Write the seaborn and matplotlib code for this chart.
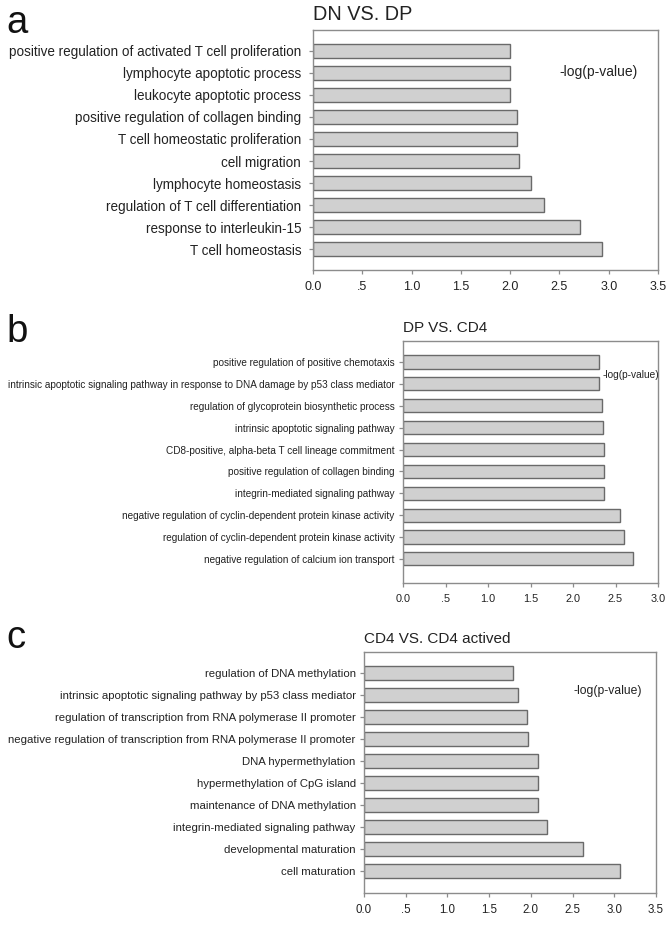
import matplotlib
matplotlib.use("Agg")
import matplotlib.pyplot as plt
import seaborn as sns

# panel a: DN vs DP
terms_a = [
    "positive regulation of activated T cell proliferation",
    "lymphocyte apoptotic process",
    "leukocyte apoptotic process",
    "positive regulation of collagen binding",
    "T cell homeostatic proliferation",
    "cell migration",
    "lymphocyte homeostasis",
    "regulation of T cell differentiation",
    "response to interleukin-15",
    "T cell homeostasis",
]
vals_a = [2.00, 2.00, 2.00, 2.07, 2.07, 2.09, 2.21, 2.34, 2.71, 2.93]

# panel b: DP vs CD4
terms_b = [
    "positive regulation of positive chemotaxis",
    "intrinsic apoptotic signaling pathway in response to DNA damage by p53 class mediator",
    "regulation of glycoprotein biosynthetic process",
    "intrinsic apoptotic signaling pathway",
    "CD8-positive, alpha-beta T cell lineage commitment",
    "positive regulation of collagen binding",
    "integrin-mediated signaling pathway",
    "negative regulation of cyclin-dependent protein kinase activity",
    "regulation of cyclin-dependent protein kinase activity",
    "negative regulation of calcium ion transport",
]
vals_b = [2.30, 2.30, 2.34, 2.35, 2.36, 2.36, 2.37, 2.55, 2.60, 2.71]

# panel c: CD4 vs CD4 actived
terms_c = [
    "regulation of DNA methylation",
    "intrinsic apoptotic signaling pathway by p53 class mediator",
    "regulation of transcription from RNA polymerase II promoter",
    "negative regulation of transcription from RNA polymerase II promoter",
    "DNA hypermethylation",
    "hypermethylation of CpG island",
    "maintenance of DNA methylation",
    "integrin-mediated signaling pathway",
    "developmental maturation",
    "cell maturation",
]
vals_c = [1.79, 1.84, 1.95, 1.96, 2.09, 2.09, 2.09, 2.19, 2.62, 3.07]

ticks_a = [0, 0.5, 1, 1.5, 2, 2.5, 3, 3.5]
ticklabels_a = ["0.0", ".5", "1.0", "1.5", "2.0", "2.5", "3.0", "3.5"]
ticks_b = [0, 0.5, 1, 1.5, 2, 2.5, 3]
ticklabels_b = ["0.0", ".5", "1.0", "1.5", "2.0", "2.5", "3.0"]

titles = ["DN VS. DP", "DP VS. CD4", "CD4 VS. CD4 actived"]
letters = ["a", "b", "c"]
value_label = "-log(p-value)"

sns.set_style("white")
fam = ["Liberation Sans", "DejaVu Sans"]
plt.rcParams["font.family"] = fam

bar_fill = "#d0d0d0"
bar_edge = "#6a6a6a"
spine_col = "#8c8c8c"
text_col = "#222222"

W, H = 670, 931
fig = plt.figure(figsize=(W / 100, H / 100), dpi=100)


def panel(box, terms, vals, ticks, ticklabels, xmax, ylim, lab_size, ypad,
          tick_size, title, title_size, title_y, note_xy, note_size,
          letter, letter_y):
    x0, x1, y0, y1 = box
    ax = fig.add_axes([x0 / W, 1 - y1 / H, (x1 - x0) / W, (y1 - y0) / H])
    sns.barplot(x=vals, y=terms, ax=ax, color=bar_fill, saturation=1,
                edgecolor=bar_edge, linewidth=1.0, width=0.6)
    ax.set_xlim(0, xmax)
    ax.set_ylim(*ylim)
    ax.set_xticks(ticks)
    ax.set_xticklabels(ticklabels, fontsize=tick_size)
    ax.set_yticklabels(terms, fontsize=lab_size)
    ax.set_xlabel("")
    ax.set_ylabel("")
    for s in ax.spines.values():
        s.set_color(spine_col)
        s.set_linewidth(1.0)
    ax.tick_params(axis="x", bottom=True, length=3, width=0.9,
                   color=spine_col, pad=5, labelcolor=text_col)
    ax.tick_params(axis="y", left=True, length=3, width=0.9,
                   color=spine_col, pad=ypad, labelcolor=text_col)
    ax.text(note_xy[0], note_xy[1], value_label, transform=ax.transAxes,
            fontsize=note_size, va="center", ha="left", color=text_col)
    fig.text(x0 / W, 1 - title_y / H, title, fontsize=title_size,
             va="baseline", ha="left", color=text_col)
    fig.text(6 / W, 1 - letter_y / H, letter, fontsize=27.5, va="baseline",
             ha="left", color="#111111")
    return ax


panel((313, 658, 30, 270), terms_a, vals_a, ticks_a, ticklabels_a, 3.5,
      (9.95, -0.95), 9.75, 5.5, 9.0, titles[0], 14.3, 20, (0.713, 0.825),
      10, letters[0], 33)
panel((403, 658, 341, 583), terms_b, vals_b, ticks_b, ticklabels_b, 3.0,
      (10.1, -0.96), 7.2, 3, 7.8, titles[1], 11, 332, (0.784, 0.86),
      7.3, letters[1], 342)
panel((364, 656, 652, 893), terms_c, vals_c, ticks_a, ticklabels_a, 3.5,
      (10.0, -0.95), 8.2, 3, 8.3, titles[2], 11, 643, (0.716, 0.838),
      8.7, letters[2], 648)

fig.savefig("out.png", dpi=100)
